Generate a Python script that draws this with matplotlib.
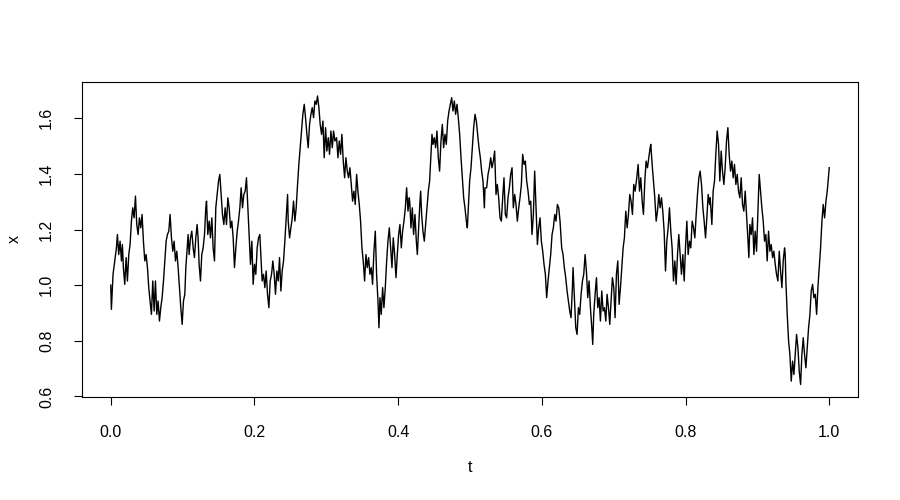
import matplotlib
matplotlib.use("Agg")
import matplotlib.pyplot as plt

# -- data (t, x) --
t = [
    0.0000, 0.0009, 0.0032, 0.0056, 0.0079, 0.0093, 0.0111, 0.0130, 0.0149, 0.0162,
    0.0176, 0.0195, 0.0214, 0.0232, 0.0251, 0.0269, 0.0288, 0.0306, 0.0325, 0.0344,
    0.0362, 0.0381, 0.0399, 0.0418, 0.0436, 0.0455, 0.0474, 0.0492, 0.0511, 0.0529,
    0.0548, 0.0566, 0.0585, 0.0604, 0.0622, 0.0641, 0.0659, 0.0678, 0.0696, 0.0715,
    0.0734, 0.0752, 0.0771, 0.0789, 0.0808, 0.0826, 0.0845, 0.0864, 0.0882, 0.0901,
    0.0919, 0.0938, 0.0956, 0.0975, 0.0994, 0.1012, 0.1031,
    0.1045, 0.1064, 0.1077, 0.1091, 0.1110, 0.1128, 0.1147, 0.1165, 0.1184, 0.1202,
    0.1216, 0.1230, 0.1249, 0.1267, 0.1286, 0.1305, 0.1323, 0.1333, 0.1351, 0.1370,
    0.1388, 0.1407, 0.1425, 0.1444, 0.1462, 0.1481, 0.1500, 0.1518, 0.1537, 0.1555,
    0.1574, 0.1592, 0.1611, 0.1630, 0.1648, 0.1667, 0.1685, 0.1704, 0.1722, 0.1741,
    0.1760, 0.1778, 0.1797, 0.1815, 0.1834, 0.1852, 0.1871, 0.1889, 0.1908, 0.1927,
    0.1945, 0.1964, 0.1982, 0.2001, 0.2019, 0.2038, 0.2057, 0.2075,
    0.2089, 0.2107, 0.2126, 0.2145, 0.2163, 0.2182, 0.2201, 0.2219, 0.2238, 0.2256,
    0.2275, 0.2293, 0.2312, 0.2331, 0.2349, 0.2368, 0.2386, 0.2405, 0.2423, 0.2442,
    0.2461, 0.2470, 0.2489, 0.2507, 0.2526, 0.2544, 0.2563, 0.2581, 0.2600, 0.2618,
    0.2637, 0.2656, 0.2674, 0.2693, 0.2711, 0.2730, 0.2748, 0.2767, 0.2786, 0.2804,
    0.2823, 0.2841, 0.2860, 0.2878, 0.2897, 0.2915, 0.2934, 0.2953, 0.2971, 0.2990,
    0.3008, 0.3027, 0.3045, 0.3064, 0.3083, 0.3101, 0.3120,
    0.3143, 0.3162, 0.3180, 0.3199, 0.3217, 0.3236, 0.3255, 0.3273, 0.3292, 0.3310,
    0.3329, 0.3347, 0.3366, 0.3384, 0.3403, 0.3422, 0.3440, 0.3459, 0.3477, 0.3496,
    0.3514, 0.3533, 0.3552, 0.3570, 0.3589, 0.3607, 0.3626, 0.3644, 0.3663, 0.3682,
    0.3700, 0.3719, 0.3733, 0.3747, 0.3765, 0.3784, 0.3802, 0.3821, 0.3840, 0.3858,
    0.3877, 0.3895, 0.3914, 0.3932, 0.3951, 0.3970, 0.3988, 0.4007, 0.4025, 0.4044,
    0.4062, 0.4081, 0.4100, 0.4118, 0.4137, 0.4155, 0.4164,
    0.4178, 0.4197, 0.4215, 0.4234, 0.4253, 0.4267, 0.4281, 0.4299, 0.4313, 0.4327,
    0.4345, 0.4364, 0.4383, 0.4401, 0.4420, 0.4438, 0.4457, 0.4471, 0.4485, 0.4503,
    0.4522, 0.4540, 0.4559, 0.4577, 0.4596, 0.4615, 0.4633, 0.4652, 0.4670, 0.4689,
    0.4708, 0.4726, 0.4745, 0.4763, 0.4782, 0.4800, 0.4819, 0.4837, 0.4856, 0.4875,
    0.4893, 0.4912, 0.4930, 0.4949, 0.4963, 0.4977, 0.4995, 0.5014, 0.5032, 0.5051,
    0.5070, 0.5088, 0.5107, 0.5125, 0.5144, 0.5162, 0.5181, 0.5200, 0.5209,
    0.5232, 0.5251, 0.5269, 0.5288, 0.5306, 0.5325, 0.5343, 0.5362, 0.5380, 0.5399,
    0.5418, 0.5436, 0.5455, 0.5473, 0.5492, 0.5510, 0.5529, 0.5548, 0.5566, 0.5585,
    0.5603, 0.5622, 0.5640, 0.5659, 0.5678, 0.5696, 0.5715, 0.5733, 0.5752, 0.5770,
    0.5789, 0.5808, 0.5826, 0.5845, 0.5863, 0.5882, 0.5900, 0.5919, 0.5938, 0.5956,
    0.5975, 0.5993, 0.6012, 0.6030, 0.6049, 0.6067, 0.6086, 0.6105, 0.6123, 0.6142,
    0.6160, 0.6179, 0.6197, 0.6216, 0.6235, 0.6253,
    0.6276, 0.6295, 0.6313, 0.6332, 0.6351, 0.6369, 0.6388, 0.6406, 0.6425, 0.6434,
    0.6453, 0.6472, 0.6490, 0.6509, 0.6527, 0.6546, 0.6565, 0.6583, 0.6602, 0.6620,
    0.6639, 0.6657, 0.6676, 0.6695, 0.6708, 0.6722, 0.6741, 0.6760, 0.6778, 0.6797,
    0.6815, 0.6834, 0.6852, 0.6871, 0.6890, 0.6908, 0.6927, 0.6945, 0.6964, 0.6982,
    0.7001, 0.7019, 0.7038, 0.7057, 0.7075, 0.7094, 0.7112, 0.7131, 0.7149, 0.7168,
    0.7187, 0.7205, 0.7224, 0.7242, 0.7261, 0.7279, 0.7298,
    0.7321, 0.7340, 0.7359, 0.7377, 0.7396, 0.7414, 0.7433, 0.7451, 0.7470, 0.7489,
    0.7507, 0.7516, 0.7535, 0.7553, 0.7572, 0.7591, 0.7609, 0.7628, 0.7646, 0.7665,
    0.7683, 0.7702, 0.7721, 0.7739, 0.7758, 0.7776, 0.7795, 0.7813, 0.7832, 0.7851,
    0.7869, 0.7888, 0.7906, 0.7925, 0.7943, 0.7962, 0.7981, 0.7999, 0.8018, 0.8036,
    0.8055, 0.8073, 0.8092, 0.8111, 0.8129, 0.8148, 0.8166, 0.8185, 0.8203, 0.8222,
    0.8241, 0.8259, 0.8278, 0.8296, 0.8315, 0.8334, 0.8343,
    0.8366, 0.8384, 0.8403, 0.8421, 0.8440, 0.8459, 0.8477, 0.8496, 0.8514, 0.8533,
    0.8551, 0.8570, 0.8589, 0.8607, 0.8626, 0.8644, 0.8663, 0.8681, 0.8700, 0.8719,
    0.8737, 0.8756, 0.8774, 0.8793, 0.8811, 0.8830, 0.8849, 0.8867, 0.8881, 0.8895,
    0.8914, 0.8932, 0.8951, 0.8969, 0.8988, 0.9006, 0.9025, 0.9044, 0.9062, 0.9081,
    0.9099, 0.9118, 0.9136, 0.9155, 0.9174, 0.9192, 0.9211, 0.9229, 0.9248, 0.9266,
    0.9285, 0.9304, 0.9322, 0.9341, 0.9359, 0.9378, 0.9387,
    0.9396, 0.9415, 0.9434, 0.9452, 0.9471, 0.9489, 0.9508, 0.9526, 0.9545, 0.9564,
    0.9582, 0.9601, 0.9619, 0.9638, 0.9656, 0.9675, 0.9694, 0.9712, 0.9731, 0.9749,
    0.9768, 0.9786, 0.9805, 0.9824, 0.9842, 0.9861, 0.9879, 0.9898, 0.9916, 0.9935,
    0.9954, 0.9972, 1.0000,
]

x = [
    1.000, 0.913, 1.039, 1.087, 1.134, 1.182, 1.110, 1.158, 1.087, 1.146,
    1.063, 1.003, 1.099, 1.015, 1.110, 1.146, 1.230, 1.278, 1.242, 1.320,
    1.218, 1.182, 1.242, 1.206, 1.254, 1.158, 1.087, 1.110, 1.063, 0.991,
    0.943, 0.895, 1.015, 0.907, 1.015, 0.895, 0.943, 0.871, 0.919, 0.955,
    1.015, 1.087, 1.158, 1.182, 1.194, 1.254, 1.170, 1.122, 1.158, 1.087,
    1.122, 1.063, 0.991, 0.919, 0.859, 0.943, 0.967,
    1.063, 1.134, 1.182, 1.110, 1.170, 1.194, 1.134, 1.099, 1.170, 1.218,
    1.170, 1.075, 1.015, 1.110, 1.134, 1.182, 1.278, 1.302, 1.182, 1.230,
    1.170, 1.242, 1.134, 1.087, 1.278, 1.326, 1.374, 1.398, 1.326, 1.254,
    1.218, 1.278, 1.218, 1.314, 1.278, 1.206, 1.230, 1.170, 1.063, 1.134,
    1.194, 1.230, 1.278, 1.350, 1.278, 1.326, 1.338, 1.386, 1.278, 1.170,
    1.075, 1.158, 1.003, 1.075, 1.039, 1.134, 1.170, 1.182,
    1.110, 1.015, 1.039, 0.991, 1.051, 0.967, 0.919, 1.015, 1.039, 1.087,
    1.039, 0.967, 1.051, 1.015, 1.099, 0.979, 1.051, 1.087, 1.158, 1.242,
    1.326, 1.230, 1.170, 1.206, 1.242, 1.302, 1.230, 1.278, 1.362, 1.434,
    1.494, 1.554, 1.614, 1.650, 1.602, 1.542, 1.494, 1.578, 1.614, 1.638,
    1.602, 1.662, 1.650, 1.680, 1.638, 1.578, 1.542, 1.590, 1.458, 1.566,
    1.482, 1.530, 1.470, 1.554, 1.494, 1.554, 1.518,
    1.530, 1.458, 1.518, 1.470, 1.542, 1.446, 1.386, 1.458, 1.410, 1.386,
    1.422, 1.362, 1.302, 1.338, 1.290, 1.398, 1.338, 1.290, 1.230, 1.134,
    1.087, 1.015, 1.110, 1.063, 1.099, 1.039, 1.063, 1.003, 1.122, 1.194,
    1.039, 0.943, 0.847, 0.955, 0.895, 0.991, 0.919, 0.991, 1.087, 1.158,
    1.206, 1.134, 1.063, 1.170, 1.110, 1.027, 1.110, 1.182, 1.218, 1.134,
    1.194, 1.230, 1.278, 1.350, 1.266, 1.314, 1.290,
    1.206, 1.278, 1.182, 1.254, 1.158, 1.110, 1.182, 1.278, 1.338, 1.254,
    1.194, 1.158, 1.218, 1.278, 1.338, 1.374, 1.470, 1.542, 1.506, 1.530,
    1.494, 1.554, 1.458, 1.410, 1.518, 1.578, 1.494, 1.542, 1.506, 1.590,
    1.626, 1.650, 1.674, 1.626, 1.662, 1.614, 1.650, 1.602, 1.542, 1.458,
    1.386, 1.314, 1.278, 1.230, 1.206, 1.278, 1.374, 1.422, 1.494, 1.566,
    1.614, 1.590, 1.542, 1.494, 1.458, 1.410, 1.374, 1.278, 1.350,
    1.350, 1.398, 1.422, 1.458, 1.422, 1.446, 1.482, 1.326, 1.362, 1.314,
    1.242, 1.230, 1.314, 1.386, 1.254, 1.242, 1.314, 1.350, 1.398, 1.422,
    1.278, 1.326, 1.290, 1.230, 1.278, 1.314, 1.362, 1.470, 1.434, 1.446,
    1.374, 1.338, 1.290, 1.302, 1.182, 1.254, 1.410, 1.278, 1.146, 1.206,
    1.242, 1.158, 1.122, 1.075, 1.039, 0.955, 1.015, 1.063, 1.110, 1.182,
    1.206, 1.254, 1.230, 1.290, 1.278, 1.230,
    1.134, 1.110, 1.063, 1.027, 0.979, 0.943, 0.907, 0.883, 0.991, 1.063,
    0.955, 0.847, 0.823, 0.919, 0.895, 0.967, 1.015, 1.039, 1.110, 1.051,
    0.955, 1.015, 0.919, 0.847, 0.787, 0.895, 0.967, 1.027, 0.919, 0.955,
    0.871, 0.979, 0.907, 0.919, 0.871, 0.967, 0.919, 0.859, 0.943, 1.027,
    0.991, 0.883, 1.039, 1.087, 0.931, 0.991, 1.063, 1.134, 1.170, 1.266,
    1.206, 1.254, 1.326, 1.302, 1.254, 1.362, 1.338,
    1.386, 1.434, 1.338, 1.386, 1.302, 1.254, 1.374, 1.446, 1.422, 1.458,
    1.494, 1.506, 1.434, 1.374, 1.314, 1.230, 1.266, 1.326, 1.278, 1.314,
    1.266, 1.194, 1.051, 1.158, 1.206, 1.278, 1.194, 1.134, 1.015, 1.087,
    1.003, 1.110, 1.182, 1.110, 1.039, 1.110, 1.015, 1.134, 1.230, 1.110,
    1.158, 1.134, 1.230, 1.206, 1.170, 1.254, 1.326, 1.386, 1.410, 1.362,
    1.278, 1.230, 1.170, 1.242, 1.326, 1.290, 1.314,
    1.218, 1.338, 1.374, 1.470, 1.554, 1.506, 1.374, 1.482, 1.410, 1.362,
    1.422, 1.518, 1.566, 1.470, 1.410, 1.446, 1.386, 1.434, 1.362, 1.398,
    1.338, 1.314, 1.386, 1.290, 1.266, 1.338, 1.254, 1.170, 1.099, 1.218,
    1.182, 1.242, 1.110, 1.194, 1.122, 1.254, 1.398, 1.338, 1.278, 1.230,
    1.158, 1.182, 1.087, 1.194, 1.122, 1.146, 1.099, 1.122, 1.075, 1.039,
    1.015, 1.122, 1.051, 0.991, 1.087, 1.134, 1.110,
    1.015, 0.895, 0.799, 0.751, 0.655, 0.727, 0.679, 0.751, 0.823, 0.775,
    0.691, 0.643, 0.751, 0.811, 0.751, 0.703, 0.775, 0.847, 0.895, 0.979,
    1.003, 0.955, 0.967, 0.895, 0.991, 1.063, 1.134, 1.230, 1.290, 1.242,
    1.302, 1.338, 1.422,
]

x_ticks = [0.0, 0.2, 0.4, 0.6, 0.8, 1.0]
y_ticks = [0.6, 0.8, 1.0, 1.2, 1.4, 1.6]

plt.rcParams['font.family'] = ['Liberation Sans', 'DejaVu Sans']

fig = plt.figure(figsize=(9, 5), dpi=100)
ax = fig.add_axes([82 / 900, 1 - 397 / 500, 776 / 900, 315.5 / 500])

ax.plot(t, x, color='black', linewidth=1.0)

ax.set_xlim(-0.04, 1.04)
ax.set_ylim(0.598, 1.732)
ax.set_xticks(x_ticks)
ax.set_xticklabels([f"{v:.1f}" for v in x_ticks])
ax.set_yticks(y_ticks)
ax.set_yticklabels([f"{v:.1f}" for v in y_ticks])

for side in ['top', 'bottom', 'left', 'right']:
    ax.spines[side].set_linewidth(0.8)
    ax.spines[side].set_color('black')

ax.tick_params(axis='both', direction='out', length=6, width=0.8,
               labelsize=11.5, pad=14, color='black')
for lab in ax.get_yticklabels():
    lab.set_rotation(90)
    lab.set_va('center')

ax.set_xlabel('t', fontsize=11.5)
ax.set_ylabel('x', fontsize=11.5)
ax.xaxis.set_label_coords(0.5, -(467 - 397) / 315.5)
ax.xaxis.label.set_va('center')
ax.yaxis.set_label_coords((14 - 82) / 776, 0.5)
ax.yaxis.label.set_va('center')

fig.savefig('out.png', dpi=100)
